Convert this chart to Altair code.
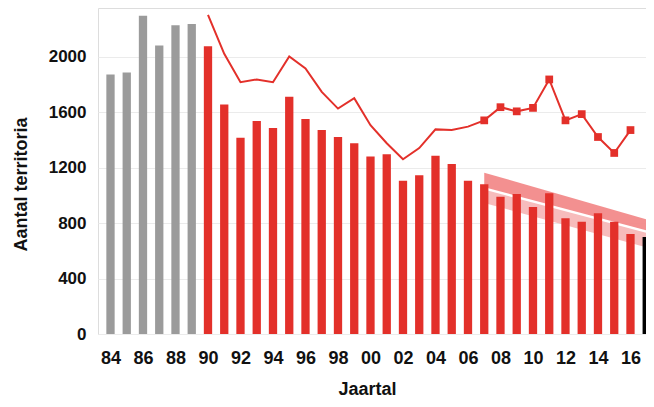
import altair as alt
import pandas as pd

# ---- data ----
years = list(range(1984, 2018))
territoria = [1870, 1885, 2295, 2080, 2225, 2235,            # 84-89 (grey)
              2075, 1655, 1415, 1535, 1485, 1710, 1550, 1470, 1420, 1375,  # 90-99
              1280, 1295, 1105, 1145, 1285, 1225, 1105, 1080, 990, 1010,   # 00-09
              915, 1015, 835, 810, 870, 810, 720,                       # 10-16
              700]                                                      # 17 (black)
groups = ["oud"] * 6 + ["rood"] * 27 + ["laatst"]

line_years = list(range(1990, 2017))
line_values = [2300, 2020, 1815, 1835, 1815, 2000, 1915, 1745, 1625, 1700,
               1505, 1375, 1260, 1340, 1475, 1470, 1495, 1540, 1635, 1605,
               1630, 1835, 1540, 1585, 1420, 1305, 1470]
marker_from = 2007

trend_years = [2007, 2017]
trend_upper = [1163, 825]
trend_mid = [1050, 738]
trend_lower = [945, 623]

x_ticks = list(range(1984, 2017, 2))
y_ticks = [0, 400, 800, 1200, 1600, 2000]

RED = "#e3302a"
FONT = "Liberation Sans"

bars = pd.DataFrame({"jaar": years, "aantal": territoria, "groep": groups})
line = pd.DataFrame({"jaar": line_years, "aantal": line_values})
marks = line[line["jaar"] >= marker_from]
trend = pd.DataFrame({"jaar": trend_years, "upper": trend_upper,
                      "mid": trend_mid, "lower": trend_lower})

xscale = alt.Scale(domain=[1983.231, 2016.955], nice=False, zero=False, padding=0)
yscale = alt.Scale(domain=[0, 2350], nice=False, padding=0)

x_axis = alt.Axis(values=x_ticks, labelExpr="substring(datum.label, 2)", format="d",
                  labelOverlap=False, labelFlush=False,
                  title="Jaartal", grid=False, domain=False, ticks=False,
                  labelPadding=15, labelFontSize=18, labelFontWeight="bold",
                  labelFont=FONT, labelColor="#111111",
                  titleFontSize=18, titleFontWeight="bold", titleFont=FONT,
                  titleColor="#111111", titleX=269, titleY=60,
                  titleBaseline="alphabetic", titleAlign="center")
y_axis = alt.Axis(values=y_ticks, format="d", title="Aantal territoria", grid=True,
                  labelOverlap=False, labelFlush=False,
                  gridColor="#ebebeb", gridWidth=1, domain=False, ticks=False,
                  labelPadding=12, labelFontSize=17, labelFontWeight="bold",
                  labelFont=FONT, labelColor="#111111",
                  titleFontSize=18, titleFontWeight="bold", titleFont=FONT,
                  titleColor="#111111", titleX=-77, titleY=176,
                  titleBaseline="middle", titleAlign="center", titleAngle=270)

X = alt.X("jaar:Q", scale=xscale, axis=x_axis)

band_up = alt.Chart(trend).mark_area(color="#f28a8a", opacity=0.95, clip=True).encode(
    x=X, y=alt.Y("upper:Q", scale=yscale, axis=y_axis), y2="mid:Q")
band_low = alt.Chart(trend).mark_area(color="#f7b8b8", opacity=0.95, clip=True).encode(
    x=X, y=alt.Y("mid:Q", scale=yscale, axis=y_axis), y2="lower:Q")
band_line = alt.Chart(trend).mark_line(color="white", strokeWidth=2.5, clip=True).encode(
    x=X, y=alt.Y("mid:Q", scale=yscale, axis=y_axis))

bar_layer = alt.Chart(bars).mark_bar(size=8.3, clip=True).encode(
    x=X,
    y=alt.Y("aantal:Q", scale=yscale, axis=y_axis),
    color=alt.Color("groep:N", legend=None,
                    scale=alt.Scale(domain=["oud", "rood", "laatst"],
                                    range=["#9b9b9b", RED, "#000000"])))

line_layer = alt.Chart(line).mark_line(color=RED, strokeWidth=2).encode(
    x=X, y=alt.Y("aantal:Q", scale=yscale, axis=y_axis))
point_layer = alt.Chart(marks).mark_square(color=RED, size=60, opacity=1).encode(
    x=X, y=alt.Y("aantal:Q", scale=yscale, axis=y_axis))

chart = alt.layer(band_up, band_low, band_line, bar_layer, line_layer, point_layer).properties(
    width=548, height=326,
    autosize=alt.AutoSizeParams(type="none"),
    padding={"left": 90, "top": 0, "right": 0, "bottom": 64},
).configure_view(stroke=None).configure_axis(labelOverlap=False).configure(background="white")

chart.save("out.html", embed_options={"renderer": "svg", "actions": False})
